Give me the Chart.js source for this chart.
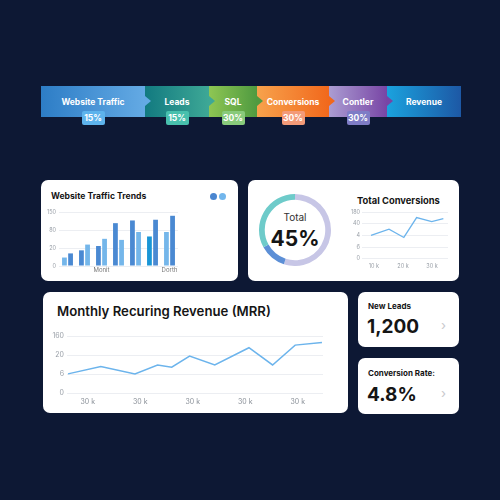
<!DOCTYPE html>
<html><head><meta charset="utf-8">
<script src="https://cdn.jsdelivr.net/npm/chart.js@4"></script>
<style>
html,body{margin:0;padding:0;}
body{width:500px;height:500px;background:#0d1834;position:relative;overflow:hidden;font-family:Inter,"Noto Sans",sans-serif;}
.abs{position:absolute;}
.card{position:absolute;background:#fff;border-radius:7px;}
.seg{position:absolute;top:86px;height:31px;color:#fff;font-weight:700;font-size:8.5px;display:flex;align-items:center;justify-content:center;white-space:nowrap;}
.arrow{position:absolute;width:0;height:0;border-top:5px solid transparent;border-bottom:5px solid transparent;z-index:3;}
.badge{position:absolute;top:111px;height:14px;width:23px;border-radius:2px;color:#fff;font-weight:700;font-size:8.5px;display:flex;align-items:center;justify-content:center;z-index:4;}
.t{position:absolute;white-space:nowrap;line-height:1;color:#151515;}
canvas{position:absolute;}
</style></head><body>
<div id="funnel"></div>

<div class="card" style="left:41px;top:180px;width:197px;height:101px;"></div>
<div class="card" style="left:248px;top:180px;width:211px;height:101px;"></div>
<div class="card" style="left:43px;top:292px;width:305px;height:121px;"></div>
<div class="card" style="left:358px;top:292px;width:101px;height:55px;"></div>
<div class="card" style="left:358px;top:358px;width:101px;height:56px;"></div>

<div class="t" style="left:51px;top:192px;font-size:8.6px;font-weight:700;">Website Traffic Trends</div>
<div class="abs" style="left:210px;top:193px;width:7px;height:7px;border-radius:50%;background:#4a86d0;"></div>
<div class="abs" style="left:219px;top:193px;width:7px;height:7px;border-radius:50%;background:#72b6ec;"></div>

<div class="t" style="left:357px;top:196px;font-size:9.4px;font-weight:700;">Total Conversions</div>
<div class="t" style="left:255px;top:212px;width:80px;text-align:center;font-size:10px;color:#333;">Total</div>
<div class="t" id="totalPct" style="left:255px;top:228px;width:80px;text-align:center;font-size:21px;font-weight:700;"></div>

<div class="t" style="left:57px;top:305px;font-size:13.2px;font-weight:600;">Monthly Recuring Revenue (MRR)</div>

<div class="t" style="left:368px;top:302px;font-size:8px;font-weight:700;">New Leads</div>
<div class="t" id="leadsVal" style="left:367px;top:317px;font-size:19px;font-weight:700;"></div>
<div class="t" style="left:441px;top:319px;font-size:13px;color:#c8c8cc;">&#8250;</div>
<div class="t" style="left:368px;top:369px;font-size:8px;font-weight:700;">Conversion Rate:</div>
<div class="t" id="rateVal" style="left:367px;top:385px;font-size:19px;font-weight:700;"></div>
<div class="t" style="left:441px;top:387px;font-size:13px;color:#c8c8cc;">&#8250;</div>

<canvas id="c1" width="140" height="72" style="left:45px;top:205px;"></canvas>
<canvas id="c2" width="72" height="72" style="left:259px;top:194px;"></canvas>
<canvas id="c3" width="110" height="67" style="left:345px;top:205px;"></canvas>
<canvas id="c4" width="283" height="80" style="left:50px;top:329px;"></canvas>

<script>
// ---- data ----
const funnelStages = ['Website Traffic','Leads','SQL','Conversions','Contler','Revenue'];
const funnelRates = ['15%','15%','30%','30%','30%'];

const trafficLabels = ['', '', 'Monit', '', '', '', 'Dorth'];
const trafficSeriesA = [0.47, 0.87, 1.11, 2.38, 2.53, 1.64, 1.89];
const trafficSeriesB = [0.70, 1.19, 1.51, 1.45, 1.89, 2.57, 2.79];
const trafficTickLabels = ['0', '20', '80', '150'];

const conversionShare = [55, 12, 33];
const conversionTotal = '45%';

const convX = [9, 15.2, 20.3, 24.7, 29.9, 33.9];
const convY = [1.99, 2.53, 1.82, 3.52, 3.18, 3.44];
const convYTickLabels = ['0', '6', '4', '40', '180'];
const convXTicks = [10, 20, 30];

const mrrX = [0.625, 1.25, 1.90, 2.33, 2.60, 2.94, 3.42, 4.07, 4.52, 4.95, 5.46];
const mrrY = [1.01, 1.40, 1.01, 1.48, 1.36, 1.95, 1.48, 2.39, 1.48, 2.53, 2.67];
const mrrYTickLabels = ['0', '6', '20', '160'];
const mrrXTicks = [1, 2, 3, 4, 5];
const mrrXTickLabels = ['30 k', '30 k', '30 k', '30 k', '30 k'];

const newLeads = '1,200';
const conversionRate = '4.8%';

// ---- styles ----
const segGeom = [[41,104],[145,64],[209,48],[257,72],[329,58],[387,74]];
const segGrad = [['#2d7dc6','#64aae4'],['#127a80','#3ea896'],['#8ec653','#4f9a40'],['#f7a24c','#f1681c'],['#ab9dd2','#7845a5'],['#1aa2de','#1d58a5']];
const badgeColor = ['#5db3ec','#48c0ad','#88ca7b','#f39a78','#7e7cc6'];
const DARK='#4a89d2', LIGHT='#74b6ea', BRIGHT='#1996d6';
const colorsA=[LIGHT,DARK,DARK,DARK,DARK,BRIGHT,LIGHT];
const colorsB=[DARK,LIGHT,LIGHT,LIGHT,LIGHT,DARK,DARK];

// funnel
const f = document.getElementById('funnel');
funnelStages.forEach((s,i)=>{
  const d=document.createElement('div'); d.className='seg';
  d.style.left=segGeom[i][0]+'px'; d.style.width=segGeom[i][1]+'px';
  d.style.background='linear-gradient(90deg,'+segGrad[i][0]+','+segGrad[i][1]+')';
  d.textContent=s; f.appendChild(d);
  if(i<funnelStages.length-1){
    const a=document.createElement('div'); a.className='arrow';
    a.style.left=(segGeom[i][0]+segGeom[i][1])+'px'; a.style.top='96px';
    a.style.borderLeft='6px solid '+segGrad[i][1]; f.appendChild(a);
    const b=document.createElement('div'); b.className='badge';
    const cx=segGeom[i][0]+segGeom[i][1]/2;
    b.style.left=(cx-11.5)+'px'; b.style.background=badgeColor[i];
    b.textContent=funnelRates[i]; f.appendChild(b);
  }
});
document.getElementById('totalPct').textContent=conversionTotal;
document.getElementById('leadsVal').textContent=newLeads;
document.getElementById('rateVal').textContent=conversionRate;

Chart.defaults.font.family='Inter, "Noto Sans", sans-serif';
Chart.defaults.color='#9aa0a8';
const noPlug={legend:{display:false},tooltip:{enabled:false}};

new Chart(document.getElementById('c1'),{
  type:'bar',
  data:{labels:trafficLabels,datasets:[
    {data:trafficSeriesA,backgroundColor:colorsA,categoryPercentage:0.72,barPercentage:0.78},
    {data:trafficSeriesB,backgroundColor:colorsB,categoryPercentage:0.72,barPercentage:0.78}]},
  options:{responsive:false,animation:false,plugins:noPlug,
    layout:{padding:{top:7,right:7,left:0,bottom:0}},
    scales:{
      x:{grid:{display:false,drawTicks:false},border:{display:false},ticks:{font:{size:6},padding:1,autoSkip:false,maxRotation:0,color:'#777'},afterFit:s=>{s.height=11;}},
      y:{min:0,max:3,grid:{color:'#eceef2',drawTicks:false},border:{display:false},
         ticks:{stepSize:1,font:{size:5.5},padding:3,callback:v=>trafficTickLabels[v]},afterFit:s=>{s.width=14;}}
    }}
});

new Chart(document.getElementById('c2'),{
  type:'doughnut',
  data:{datasets:[{data:conversionShare,backgroundColor:['#c7c6e6','#5c8fd6','#6ecbca'],borderWidth:0}]},
  options:{responsive:false,animation:false,plugins:noPlug,cutout:'84%',layout:{padding:0}}
});

new Chart(document.getElementById('c3'),{
  type:'line',
  data:{datasets:[{data:convX.map((x,i)=>({x:x,y:convY[i]})),borderColor:'#6cb4ec',borderWidth:1.3,pointRadius:0,tension:0}]},
  options:{responsive:false,animation:false,plugins:noPlug,
    layout:{padding:{top:7,right:7,left:0,bottom:0}},
    scales:{
      x:{type:'linear',min:5.9,max:35.5,grid:{display:false,drawTicks:false},border:{display:false},
         afterBuildTicks:s=>{s.ticks=convXTicks.map(v=>({value:v}));},
         ticks:{font:{size:5.5},padding:4,maxRotation:0,callback:v=>v+' k'},afterFit:s=>{s.height=13.3;}},
      y:{min:0,max:4,grid:{color:'#eceef2',drawTicks:false},border:{display:false},
         ticks:{stepSize:1,font:{size:5.5},padding:2,callback:v=>convYTickLabels[v]},afterFit:s=>{s.width=17;}}
    }}
});

new Chart(document.getElementById('c4'),{
  type:'line',
  data:{datasets:[{data:mrrX.map((x,i)=>({x:x,y:mrrY[i]})),borderColor:'#6cb4ec',borderWidth:1.5,pointRadius:0,tension:0}]},
  options:{responsive:false,animation:false,plugins:noPlug,
    layout:{padding:{top:6.7,right:10,left:0,bottom:0}},
    scales:{
      x:{type:'linear',min:0.606,max:5.48,grid:{display:false,drawTicks:false},border:{display:false},
         afterBuildTicks:s=>{s.ticks=mrrXTicks.map(v=>({value:v}));},
         ticks:{font:{size:7},padding:5,maxRotation:0,color:'#8a9098',callback:(v,i)=>mrrXTickLabels[i]},afterFit:s=>{s.height=16;}},
      y:{min:0,max:3,grid:{color:'#eceef2',drawTicks:false},border:{display:false},
         ticks:{stepSize:1,font:{size:7},padding:3,color:'#9aa0a8',callback:v=>mrrYTickLabels[v]},afterFit:s=>{s.width=17;}}
    }}
});
</script>
</body></html>
